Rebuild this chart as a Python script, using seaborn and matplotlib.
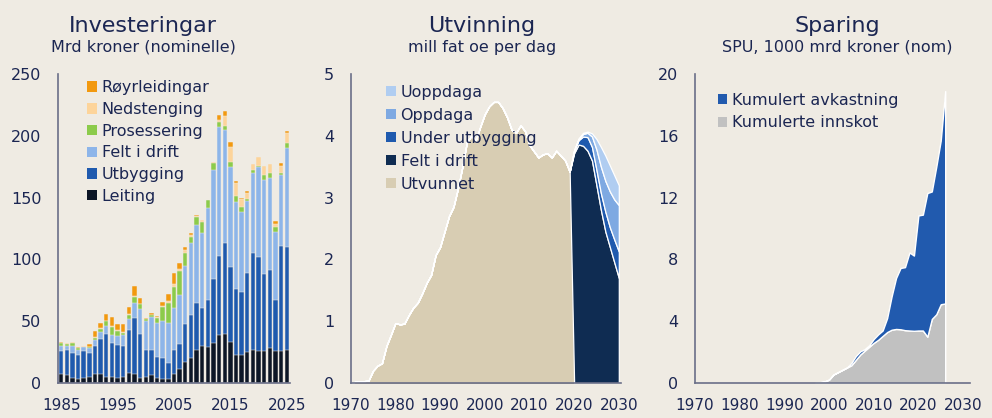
import numpy as np
import pandas as pd
import matplotlib
matplotlib.use("Agg")
import matplotlib.pyplot as plt
from matplotlib.patches import Patch
import seaborn as sns

# ---- Investeringar (mrd kr, nominelle) ----
inv_years = list(range(1985, 2026))
leiting = [7, 6.5, 4, 3.5, 4, 5, 7, 7, 5, 4.5,
           4, 5, 8, 7, 4.3, 4.6, 6.2, 3.8, 3, 3,
           7.3, 11, 17, 20, 27, 30, 29.4, 32, 39, 40,
           33.5, 22.4, 22.4, 24.8, 27, 25.6, 26, 28, 25.6, 25.6, 26.4]
utbygging = [19, 20.5, 20.5, 19.5, 22, 19, 23, 29, 35, 28,
             27, 25, 35, 45.3, 35.1, 22.4, 20.5, 17.5, 17, 13.5,
             19.4, 20.3, 31, 35, 37.5, 31, 37.6, 52, 64, 73,
             60, 53.6, 51.6, 63.9, 78, 76.4, 62, 63.4, 41.4, 85.4, 83.6]
felt_i_drift = [4, 3, 5.5, 4, 3, 4, 5, 5, 6, 6.5,
                7, 8.5, 9, 12.2, 20.2, 23.4, 27, 27.5, 30, 32.3,
                33.7, 39.9, 46.3, 58, 63.5, 60.6, 75, 88, 104, 92,
                81, 70.7, 64, 58.3, 65, 72.5, 76, 74.6, 55, 57, 80]
prosessering = [2, 1.5, 2.5, 1, 0.5, 1, 1.5, 3, 4, 6.5,
                4, 2, 3, 5.5, 4, 1.4, 1, 3.5, 11.2, 15.7,
                17, 19.8, 11, 5, 6, 8.4, 6, 6, 4, 3,
                4.5, 4.3, 4.7, 2, 2, 1.3, 4, 4, 4, 2, 4]
nedstenging = [0.5, 0.5, 0.5, 0.5, 0.5, 0.5, 0.5, 0.5, 0.5, 1,
               1, 1, 0.5, 0.8, 0.5, 0.4, 0.5, 1.2, 1, 2,
               3, 1.5, 2, 1.5, 1.5, 2, 0.5, 0.5, 2, 8,
               11.7, 10.5, 5.9, 5, 5, 7.2, 8, 7, 3, 5.6, 8]
royrleidingar = [0.5, 0.5, 0.5, 0.5, 0.3, 2, 5, 4, 5.5, 7,
                 5, 6, 6, 7.7, 4.4, 0.3, 1.7, 0.5, 3, 5.5,
                 9, 5, 3, 2, 0.5, 0, 0, 0, 4, 4,
                 4.3, 1.9, 1.4, 1.6, 0, 0, 0, 0, 2, 2.4, 2]
inv_labels = ["Leiting", "Utbygging", "Felt i drift", "Prosessering",
              "Nedstenging", "Røyrleidingar"]
inv_ticks = [1985, 1995, 2005, 2015, 2025]

# ---- Utvinning (mill fat oe per dag) ----
utv_years = list(range(1970, 2031))
utvunnet = [0.0, 0.02, 0.03, 0.03, 0.04, 0.2, 0.28, 0.32, 0.6, 0.78,
            0.97, 0.95, 0.96, 1.1, 1.22, 1.3, 1.45, 1.62, 1.75, 2.07,
            2.2, 2.45, 2.7, 2.85, 3.15, 3.5, 3.9, 4.0, 3.93, 4.15,
            4.35, 4.48, 4.55, 4.55, 4.45, 4.3, 4.1, 4.05, 4.17, 4.08,
            3.85, 3.75, 3.65, 3.7, 3.72, 3.65, 3.76, 3.68, 3.6, 3.42] + [0] * 11
fc_felt = [3.72, 3.86, 3.84, 3.76, 3.6, 3.2, 2.8, 2.45, 2.2, 1.95, 1.7]
fc_under = [0.04, 0.07, 0.15, 0.22, 0.22, 0.25, 0.27, 0.32, 0.32, 0.37, 0.43]
fc_oppdaga = [0.01, 0.02, 0.04, 0.07, 0.17, 0.33, 0.43, 0.5, 0.58, 0.65, 0.75]
fc_uoppdaga = [0, 0.01, 0.02, 0.02, 0.05, 0.17, 0.32, 0.41, 0.42, 0.39, 0.32]
utv_labels = ["Utvunnet", "Felt i drift", "Under utbygging", "Oppdaga", "Uoppdaga"]

# ---- Sparing (SPU, 1000 mrd kr) ----
sp_years = list(range(1997, 2027))
innskot = [0.03, 0.05, 0.1, 0.22, 0.55, 0.7, 0.85, 1.0, 1.15, 1.5,
           1.85, 2.1, 2.35, 2.6, 2.8, 3.05, 3.3, 3.45, 3.5, 3.48,
           3.42, 3.4, 3.38, 3.4, 3.4, 3.0, 4.15, 4.45, 5.1, 5.15]
avkastning = [0, 0, 0, 0, 0, 0, 0, 0, 0.15, 0.25,
              0.2, 0.1, 0.1, 0.25, 0.35, 0.35, 0.9, 2.15, 3.3, 3.97,
              4.08, 5.05, 4.87, 7.45, 7.5, 9.3, 8.25, 9.55, 10.6, 13.75]
sp_labels = ["Kumulerte innskot", "Kumulert avkastning"]
decade_ticks = [1970, 1980, 1990, 2000, 2010, 2020, 2030]

bg = "#efebe3"
txt = "#1b2652"
spine = "#6a6f88"

sns.set_theme(style="white")
plt.rcParams["font.family"] = ["DejaVu Sans"]
plt.rcParams["text.color"] = txt
plt.rcParams["axes.labelcolor"] = txt
plt.rcParams["xtick.color"] = txt
plt.rcParams["ytick.color"] = txt

fig = plt.figure(figsize=(9.92, 4.18), dpi=100, facecolor=bg)
ax1 = fig.add_axes([0.0585, 0.0837, 0.234, 0.739])
ax2 = fig.add_axes([0.3535, 0.0837, 0.273, 0.739])
ax3 = fig.add_axes([0.7006, 0.0837, 0.277, 0.739])


def style_axis(ax):
    ax.set_facecolor(bg)
    for s in ["top", "right"]:
        ax.spines[s].set_visible(False)
    for s in ["left", "bottom"]:
        ax.spines[s].set_color(spine)
        ax.spines[s].set_linewidth(1.2)
    ax.tick_params(axis="y", direction="in", length=5, width=1, color=spine,
                   labelsize=11.5, pad=12)
    ax.tick_params(axis="x", length=0, labelsize=11, pad=11)
    ax.set_xlabel("")
    ax.set_ylabel("")


# --- Investeringar: stacked bars drawn as cumulative seaborn bars ---
inv_cols = ["#0c1626", "#1f5aae", "#8db5e9", "#8ccb4b", "#fdd49a", "#f2990f"]
inv_df = pd.DataFrame({"year": inv_years, "Leiting": leiting, "Utbygging": utbygging,
                       "Felt i drift": felt_i_drift, "Prosessering": prosessering,
                       "Nedstenging": nedstenging, "Røyrleidingar": royrleidingar})
cum = inv_df[inv_labels].cumsum(axis=1)
for lab, col in reversed(list(zip(inv_labels, inv_cols))):
    sns.barplot(x=inv_df["year"], y=cum[lab], color=col, native_scale=True,
                width=0.78, saturation=1, errorbar=None, ax=ax1,
                edgecolor=bg, linewidth=0.35)
style_axis(ax1)
ax1.set_xlim(1984.45, 2025.6)
ax1.set_ylim(0, 250)
ax1.set_yticks([0, 50, 100, 150, 200, 250])
ax1.set_xticks(inv_ticks)
ax1.set_xticklabels([str(t) for t in inv_ticks])
h1 = [Patch(facecolor=c, edgecolor="none") for c in inv_cols][::-1]
ax1.legend(h1, inv_labels[::-1], loc="upper left", bbox_to_anchor=(0.125, 0.98),
           frameon=False, fontsize=11.5, handlelength=0.62, handleheight=0.62,
           handletextpad=0.3, labelspacing=0.42, borderpad=0, borderaxespad=0)

# --- Utvinning: stacked areas ---
utv_cols = ["#d8cdb3", "#0f2c52", "#1f5aae", "#7ea9e2", "#b0cdf1"]
pad0 = [0] * 50
layers = [utvunnet, pad0 + fc_felt, pad0 + fc_under, pad0 + fc_oppdaga, pad0 + fc_uoppdaga]
polys = ax2.stackplot(utv_years, *layers, colors=utv_cols, edgecolor="white", linewidth=0.9)
polys[0].set_edgecolor("#c4b89f")
polys[0].set_linewidth(0.8)
style_axis(ax2)
ax2.set_xlim(1970, 2030.6)
ax2.set_ylim(0, 5)
ax2.set_yticks([0, 1, 2, 3, 4, 5])
ax2.set_xticks(decade_ticks)
h2 = [Patch(facecolor=c, edgecolor="none") for c in utv_cols][::-1]
ax2.legend(h2, utv_labels[::-1], loc="upper left", bbox_to_anchor=(0.13, 0.965),
           frameon=False, fontsize=11.5, handlelength=0.62, handleheight=0.62,
           handletextpad=0.3, labelspacing=0.5, borderpad=0, borderaxespad=0)

# --- Sparing: stacked areas ---
sp_cols = ["#c1c1c1", "#215aae"]
ax3.stackplot(sp_years, innskot, avkastning, colors=sp_cols, edgecolor="white", linewidth=1.0)
style_axis(ax3)
ax3.set_xlim(1970, 2031.5)
ax3.set_ylim(0, 20)
ax3.set_yticks([0, 4, 8, 12, 16, 20])
ax3.set_xticks(decade_ticks)
h3 = [Patch(facecolor=c, edgecolor="none") for c in sp_cols][::-1]
ax3.legend(h3, sp_labels[::-1], loc="upper left", bbox_to_anchor=(0.082, 0.94),
           frameon=False, fontsize=11.5, handlelength=0.62, handleheight=0.62,
           handletextpad=0.3, labelspacing=0.48, borderpad=0, borderaxespad=0)

# --- titles ---
titles = [("Investeringar", "Mrd kroner (nominelle)", 143),
          ("Utvinning", "mill fat oe per dag", 482),
          ("Sparing", "SPU, 1000 mrd kroner (nom)", 837)]
for t, sub, xc in titles:
    fig.text(xc / 992, 1 - 32 / 418, t, ha="center", va="baseline", fontsize=16, color=txt)
    fig.text(xc / 992, 1 - 52 / 418, sub, ha="center", va="baseline", fontsize=11.5, color=txt)

fig.savefig("out.png", dpi=100, facecolor=bg)
